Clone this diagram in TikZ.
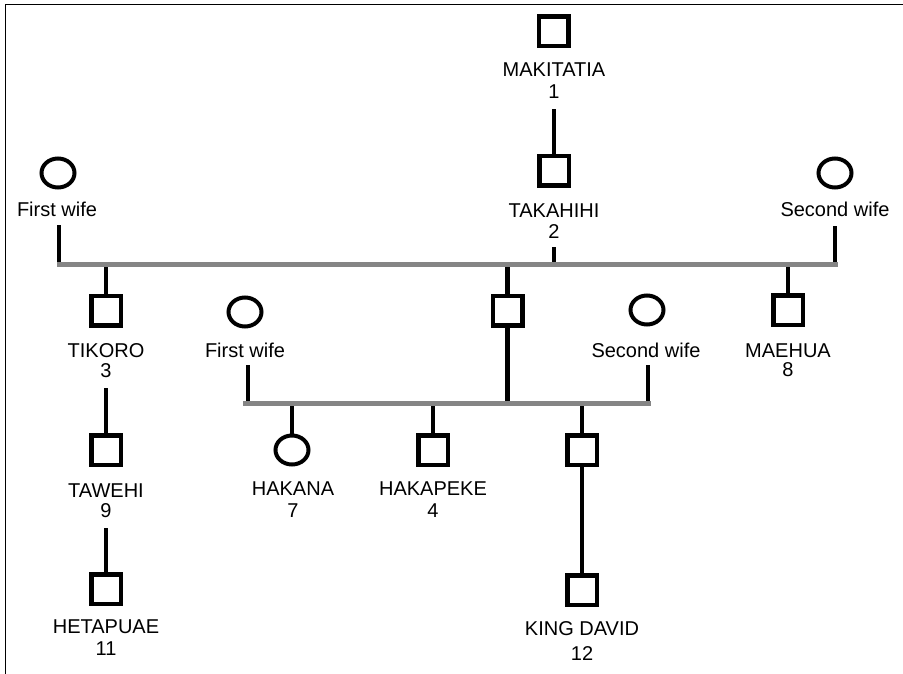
\documentclass[tikz,border=0pt]{standalone}
\usepackage{fontspec}
\setmainfont{Liberation Sans}
\usetikzlibrary{shapes.geometric}
\begin{document}
\begin{tikzpicture}[x=1pt,y=-1pt,
  male/.style={draw=black,line width=4.5pt,rectangle,minimum size=29.5pt,inner sep=0pt},
  female/.style={draw=black,line width=4pt,ellipse,minimum width=33pt,minimum height=29pt,inner sep=0pt},
  lbl/.style={anchor=base,inner sep=0pt,font=\fontsize{20}{24}\selectfont},
  kin/.style={draw=black,line width=4.5pt},
  bar/.style={draw=black!48,line width=5pt},
  frame/.style={draw=black,line width=1.5pt}]
\useasboundingbox (0,0) rectangle (903,674);
% frame (top and left only)
\coordinate (fTL) at (5.5,4.3);
\coordinate (fTR) at (903,4.3);
\coordinate (fBL) at (5.5,674);
\draw[frame] (fTR) -- (fTL) -- (fBL);

% generation 1-2
\node[male] (p1) at (553.5,31.5) {};
\node[lbl] (t1a) at (554,77) {MAKITATIA};
\node[lbl] (t1b) at (554,99) {1};
\node[male] (p2) at (554,171) {};
\node[lbl] (t2a) at (554,218) {TAKAHIHI};
\node[lbl] (t2b) at (554,239) {2};

% first marriage bar
\coordinate (b1L) at (57,264);
\coordinate (b1R) at (837.5,264);

\node[female] (w1) at (58,173) {};
\node[lbl] (w1t) at (57,217) {First wife};
\node[female] (w2) at (835,173) {};
\node[lbl] (w2t) at (835,217) {Second wife};

\node[male] (p3) at (106,310.5) {};
\node[lbl] (t3a) at (106,357) {TIKORO};
\node[lbl] (t3b) at (106,377) {3};
\node[male] (pm) at (507.5,310.5) {};
\node[male] (p8) at (788,310) {};
\node[lbl] (t8a) at (788,357) {MAEHUA};
\node[lbl] (t8b) at (788,376) {8};

\node[male] (p9) at (106,450) {};
\node[lbl] (t9a) at (106,497) {TAWEHI};
\node[lbl] (t9b) at (106,517) {9};
\node[male] (p11) at (106,589) {};
\node[lbl] (t11a) at (106,633) {HETAPUAE};
\node[lbl] (t11b) at (106,655) {11};

% second marriage bar
\coordinate (b2L) at (243,403);
\coordinate (b2R) at (650.5,403);
\node[female] (v1) at (245,312) {};
\node[lbl] (v1t) at (245,357) {First wife};
\node[female] (v2) at (647,310) {};
\node[lbl] (v2t) at (646,357) {Second wife};

\node[female] (p7) at (292,450) {};
\node[lbl] (t7a) at (293,495) {HAKANA};
\node[lbl] (t7b) at (293,517) {7};
\node[male] (p4) at (433,450) {};
\node[lbl] (t4a) at (433,495) {HAKAPEKE};
\node[lbl] (t4b) at (433,517) {4};
\node[male] (pk) at (582,450) {};
\node[male] (p12) at (582,590) {};
\node[lbl] (t12a) at (582,635) {KING DAVID};
\node[lbl] (t12b) at (582,660) {12};

% connectors
\draw[kin,shorten <=10pt] (t1b.south) -- (p2.north);
\draw[kin,shorten <=8pt] (t2b.south) -- (t2b.south |- b1L);
\draw[kin,shorten <=8pt] ([xshift=2pt]w1t.south) -- ([xshift=2pt]w1t.south |- b1L);
\draw[kin,shorten <=9pt] (w2t.south) -- (w2t.south |- b1R);
\draw[kin] (p3.north |- b1L) -- (p3.north);
\draw[kin] (pm.north |- b1L) -- (pm.north);
\draw[kin] (p8.north |- b1L) -- (p8.north);
\draw[kin,shorten <=11pt] (t3b.south) -- (p9.north);
\draw[kin,shorten <=11pt] (t9b.south) -- (p11.north);

\draw[kin,shorten <=8pt] ([xshift=3pt]v1t.south) -- ([xshift=3pt]v1t.south |- b2L);
\draw[kin,shorten <=8pt] ([xshift=2pt]v2t.south) -- ([xshift=2pt]v2t.south |- b2R);
\draw[kin] (pm.south) -- (pm.south |- b2L);
\draw[kin] (p7.north |- b2L) -- (p7.north);
\draw[kin] (p4.north |- b2L) -- (p4.north);
\draw[kin] (pk.north |- b2L) -- (pk.north);
\draw[kin] (pk.south) -- (p12.north);

% bars on top
\draw[bar] (b1L) -- (b1R);
\draw[bar] (b2L) -- (b2R);
\end{tikzpicture}
\end{document}
